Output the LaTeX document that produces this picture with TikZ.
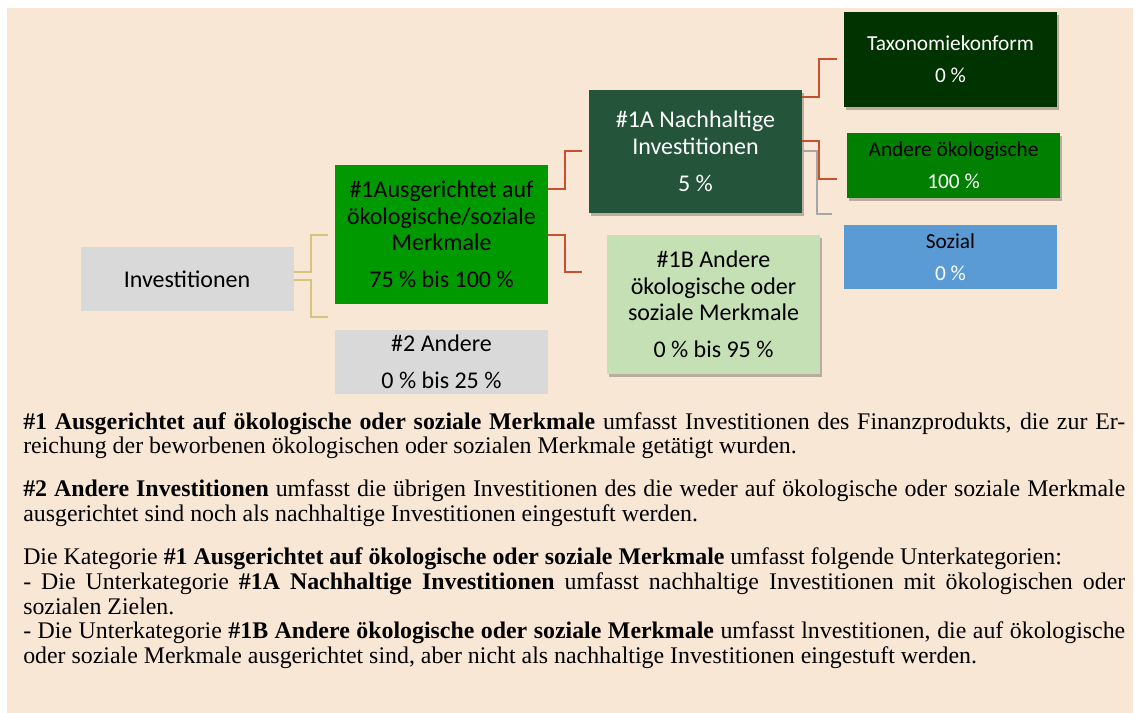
\documentclass[tikz,border=0pt]{standalone}
\usepackage{fontspec}
\setmainfont{Liberation Serif}
\newfontfamily\boxfont{Carlito}
\usetikzlibrary{shadows}
\definecolor{bgpeach}{HTML}{F9E7D6}
\definecolor{boxgray}{HTML}{D9D9D9}
\definecolor{merkmalgreen}{HTML}{009900}
\definecolor{nachhaltiggreen}{HTML}{245439}
\definecolor{anderelightgreen}{HTML}{C5E0B4}
\definecolor{taxgreen}{HTML}{003300}
\definecolor{oekogreen}{HTML}{007F00}
\definecolor{sozialblue}{HTML}{5B9BD5}
\definecolor{linered}{HTML}{C9502F}
\definecolor{linetan}{HTML}{D5C47E}
\definecolor{linegray}{HTML}{A6A6A6}
\begin{document}
\begin{tikzpicture}[x=0.75pt, y=-0.75pt,
  catbox/.style={rectangle, minimum width=159.75pt, inner sep=0pt, align=center},
  bigtext/.style={font=\boxfont\fontsize{18}{19.9}\selectfont},
  smalltext/.style={font=\boxfont\fontsize{16}{24}\selectfont},
  boxshadow/.style={drop shadow={shadow xshift=1.5pt, shadow yshift=-2.5pt, opacity=0.25, fill=black}},
  redline/.style={draw=linered, line width=1.5pt},
  tanline/.style={draw=linetan, line width=1.5pt},
  grayline/.style={draw=linegray, line width=1.5pt}]
  \useasboundingbox (0,0) rectangle (1135,713);
  \fill[bgpeach] (7,8) rectangle (1133,713);
  % Nodes
  \node (inv) [catbox, bigtext, fill=boxgray, minimum height=48pt] at (187,279) {Investitionen};
  \node (n1) [catbox, bigtext, fill=merkmalgreen, minimum height=104.25pt] at (441.5,234.5) {\#1Ausgerichtet auf\\ökologische/soziale\\Merkmale\\[7.9pt]75 \% bis 100 \%};
  \node (n2) [catbox, bigtext, fill=boxgray, minimum height=48pt] at (441.5,362) {\#2 Andere\\[7.9pt]0 \% bis 25 \%};
  \node (n1a) [catbox, bigtext, boxshadow, fill=nachhaltiggreen, text=white, minimum height=92.25pt] at (695.5,151.5) {\#1A Nachhaltige\\Investitionen\\[7.9pt]5 \%};
  \node (n1b) [catbox, bigtext, boxshadow, fill=anderelightgreen, minimum height=104.25pt] at (713.5,304.5) {\#1B Andere\\ökologische oder\\soziale Merkmale\\[7.9pt]0 \% bis 95 \%};
  \node (tax) [catbox, smalltext, boxshadow, fill=taxgreen, text=white, minimum height=71.25pt] at (950.5,59.5) {Taxonomiekonform\\0 \%};
  \node (oeko) [catbox, smalltext, boxshadow, fill=oekogreen, minimum height=48.75pt] at (953.5,165.5) {Andere ökologische\\\textcolor{white}{100 \%}};
  \node (soz) [catbox, smalltext, fill=sozialblue, minimum height=48pt] at (950.5,257) {Sozial\\\textcolor{white}{0 \%}};
  \node (legend) [anchor=north west, text width=826.5pt, inner sep=0pt, align=justify, font=\fontsize{17.9}{18.6}\selectfont] at (23,412) {\tolerance=10000 \spaceskip=0.25em plus 0.5em minus 0.12em
    \textbf{\#1 Ausgerichtet auf ökologische oder soziale Merkmale} umfasst Investitionen des Finanzprodukts, die zur Er-\linebreak reichung der beworbenen ökologischen oder sozialen Merkmale getätigt wurden.\par\vspace{13.6pt}
    \textbf{\#2 Andere Investitionen} umfasst die übrigen Investitionen des die weder auf ökologische oder soziale Merkmale\linebreak ausgerichtet sind noch als nachhaltige Investitionen eingestuft werden.\par\vspace{13.6pt}
    Die Kategorie \textbf{\#1 Ausgerichtet auf ökologische oder soziale Merkmale} umfasst folgende Unterkategorien:\newline
    - Die Unterkategorie \textbf{\#1A Nachhaltige Investitionen} umfasst nachhaltige Investitionen mit ökologischen oder\linebreak sozialen Zielen.\newline
    - Die Unterkategorie \textbf{\#1B Andere ökologische oder soziale Merkmale} umfasst lnvestitionen, die auf ökologische\linebreak oder soziale Merkmale ausgerichtet sind, aber nicht als nachhaltige Investitionen eingestuft werden.};
  % Connector ends
  \coordinate (n1-in) at ([shift={(-7,0)}]n1.west);
  \coordinate (n2-in) at (328,317);
  \coordinate (n1a-in) at ([shift={(-7,0)}]n1a.west);
  \coordinate (n1b-in) at (582,272);
  \coordinate (tax-in) at ([shift={(-7,0)}]tax.west);
  \coordinate (oeko-in) at (837,179);
  \coordinate (soz-in) at (832,214);
  % Connectors
  \draw[tanline] ([shift={(0,-7)}]inv.east) -- ++(17,0) |- (n1-in);
  \draw[tanline] ([shift={(0,1)}]inv.east) -- ++(17,0) |- (n2-in);
  \draw[redline] ([shift={(0,-45.5)}]n1.east) -- ++(17,0) |- (n1a-in);
  \draw[redline] (n1.east) -- ++(17,0) |- (n1b-in);
  \draw[redline] ([shift={(0,-54.5)}]n1a.east) -- ++(17,0) |- (tax-in);
  \draw[redline] ([shift={(0,-10.5)}]n1a.east) -- ++(17,0) |- (oeko-in);
  \draw[grayline] (n1a.east) -- ++(15,0) |- (soz-in);
\end{tikzpicture}
\end{document}
